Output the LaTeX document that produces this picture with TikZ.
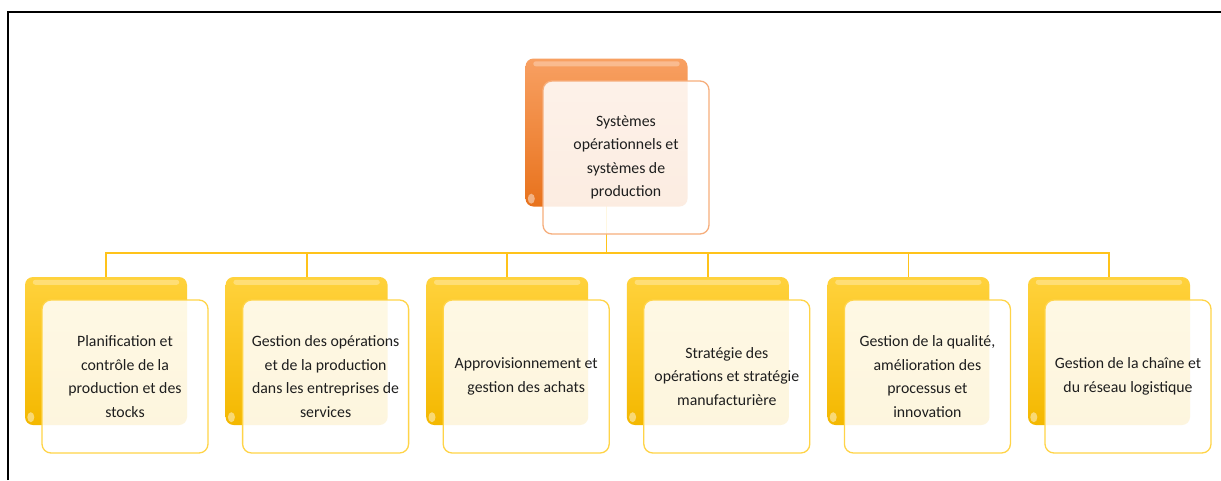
\documentclass[tikz,border=0pt]{standalone}
\usepackage{fontspec}
\setmainfont{Carlito}
\usetikzlibrary{calc,backgrounds}
\definecolor{orgTop}{HTML}{F8A062}
\definecolor{orgBot}{HTML}{E8721C}
\definecolor{orgLine}{HTML}{F6AE7C}
\definecolor{yelTop}{HTML}{FFD23C}
\definecolor{yelBot}{HTML}{F4B800}
\definecolor{yelLine}{HTML}{FFD448}
\definecolor{connC}{HTML}{FFC31A}
\definecolor{txt}{HTML}{1E1E1E}
\tikzset{
  backbox/.style={minimum width=162pt, minimum height=148pt, rounded corners=8pt, draw=none, inner sep=0pt},
  orangeback/.style={backbox, top color=orgTop, bottom color=orgBot},
  yellowback/.style={backbox, top color=yelTop, bottom color=yelBot},
  frontbox/.style={minimum width=166pt, minimum height=153pt, rounded corners=9pt, fill=white, fill opacity=0.87, text opacity=1, line width=1.3pt, align=center, inner sep=2pt, font=\fontsize{15.8}{23.5}\selectfont, text=txt},
  conn/.style={draw=connC, line width=1.8pt},
  frame/.style={draw=black, line width=2pt},
  shine/.style={fill=white, opacity=0.3, rounded corners=2.5pt},
  spot/.style={fill=white, opacity=0.45}
}
\begin{document}
\begin{tikzpicture}[x=1pt,y=-1pt]
\useasboundingbox (0,0) rectangle (1221,480);
\draw[frame] (8,480) -- (8,12) -- (1221,12);

\node[orangeback] (rootback) at (606.5,132.5) {};
\fill[shine] ($(rootback.north west)+(8,3)$) rectangle ($(rootback.north east)+(-8,8)$);
\fill[spot] ($(rootback.south west)+(6,-8)$) ellipse (3.5pt and 5pt);
\node[frontbox, draw=orgLine] (root) at (626,157.5) {Systèmes\\opérationnels et\\systèmes de\\production};

\coordinate (bus) at (606.5,253);

\foreach \i/\t in {
  0/{Planification et\\contrôle de la\\production et des\\stocks},
  1/{Gestion des opérations\\et de la production\\dans les entreprises de\\services},
  2/{Approvisionnement et\\gestion des achats},
  3/{Stratégie des\\opérations et stratégie\\manufacturière},
  4/{Gestion de la qualité,\\amélioration des\\processus et\\innovation},
  5/{Gestion de la chaîne et\\du réseau logistique}} {
  \node[yellowback] (b\i) at ({106+200.6*\i},351) {};
  \fill[shine] ($(b\i.north west)+(8,3)$) rectangle ($(b\i.north east)+(-8,8)$);
  \fill[spot] ($(b\i.south west)+(6,-8)$) ellipse (3.5pt and 5pt);
  \node[frontbox, draw=yelLine] (c\i) at ({125+200.6*\i},376.5) {\t};
}

\begin{scope}[on background layer]
  \fill[white] (0,0) rectangle (1221,480);
  \draw[conn] (rootback.center) -- (rootback.center |- bus);
  \foreach \i in {0,...,5} {
    \draw[conn] (rootback.center |- bus) -| (b\i.center);
  }
\end{scope}
\end{tikzpicture}
\end{document}
